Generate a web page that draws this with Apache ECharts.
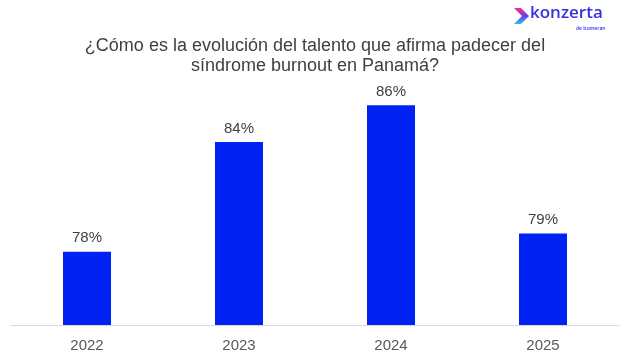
<!DOCTYPE html>
<html><head><meta charset="utf-8">
<script src="https://cdn.jsdelivr.net/npm/echarts@6/dist/echarts.min.js"></script>
<style>html,body{margin:0;padding:0;background:#fff}#c{width:634px;height:359px}</style>
</head><body><div id="c"></div>
<script>
const categories = ['2022', '2023', '2024', '2025'];
const values = [78, 84, 86, 79];
const titleLines = ['¿Cómo es la evolución del talento que afirma padecer del', 'síndrome burnout en Panamá?'];

const titleStyle = {fontFamily: 'Liberation Sans', fontSize: 18, fontWeight: 'normal', color: '#404040'};
const chart = echarts.init(document.getElementById('c'));
chart.setOption({
  animation: false,
  backgroundColor: '#ffffff',
  title: [
    {text: titleLines[0], left: 315, top: 37, textAlign: 'center', textStyle: titleStyle, padding: 0},
    {text: titleLines[1], left: 315, top: 57, textAlign: 'center', textStyle: titleStyle, padding: 0}
  ],
  grid: {left: 11, right: 15, top: 32, bottom: 34},
  xAxis: {
    type: 'category', data: categories,
    axisLine: {lineStyle: {color: '#d9d9d9', width: 1}},
    axisTick: {show: false},
    axisLabel: {fontFamily: 'Liberation Sans', fontSize: 15, color: '#595959', margin: 13}
  },
  yAxis: {type: 'value', min: 74, max: 90, show: false, splitLine: {show: false}},
  series: [{
    type: 'bar', data: values, barWidth: 48,
    itemStyle: {color: '#0022f2'},
    label: {show: true, position: 'top', distance: 6, formatter: '{c}%', fontFamily: 'Liberation Sans', fontSize: 15, color: '#404040'}
  }],
  graphic: [
    {type: 'polygon', shape: {points: [[514,8],[521,8],[529,16],[521,24],[514,24],[522,16]]},
     style: {fill: new echarts.graphic.LinearGradient(0,0,0,1,[{offset:0,color:'#ff2d8a'},{offset:0.5,color:'#6a3cf0'},{offset:1,color:'#22c8e8'}])}},
    {type: 'text', left: 530, top: 5, style: {text: 'konzerta', font: '600 17px "Open Sans"', fill: '#3b2fe0'}},
    {type: 'text', left: 576, top: 26, style: {text: 'de bumeran', font: '600 5px "Open Sans"', fill: '#3b2fe0'}}
  ]
});
</script></body></html>
